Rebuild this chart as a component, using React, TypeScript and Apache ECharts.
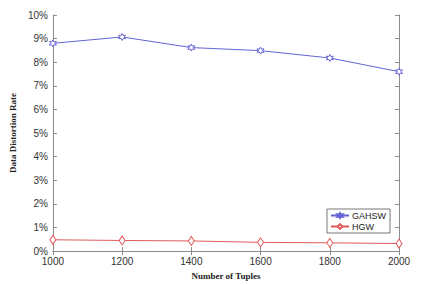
import React, { useEffect, useRef } from "react";
import * as echarts from "echarts";

const tuples = [1000, 1200, 1400, 1600, 1800, 2000];
const gahsw = [8.8, 9.07, 8.62, 8.49, 8.18, 7.6];
const hgw = [0.48, 0.45, 0.43, 0.37, 0.35, 0.32];

const starPath =
  "path://M0,-10 L2.5,-4.3 L8.7,-5 L5,0 L8.7,5 L2.5,4.3 L0,10 L-2.5,4.3 L-8.7,5 L-5,0 L-8.7,-5 L-2.5,-4.3 Z";

export default function App() {
  const ref = useRef<HTMLDivElement>(null);
  useEffect(() => {
    const chart = echarts.init(ref.current!, null, { renderer: "svg" });
    const axisLine = { show: true, lineStyle: { color: "#8c8c8c", width: 1 } };
    const tick = { show: true, inside: true, length: 4, lineStyle: { color: "#8c8c8c" } };
    const labelFont = { fontFamily: "Liberation Sans, Arial, sans-serif", fontSize: 10, color: "#333" };
    const titleFont = { fontFamily: "Liberation Serif, Times New Roman, serif", fontWeight: "bold", fontSize: 9, color: "#222" };
    chart.setOption({
      animation: false,
      backgroundColor: "#fff",
      grid: { left: 51, right: 30, top: 15, bottom: 33, containLabel: false },
      legend: {
        right: 39,
        top: 209,
        orient: "vertical",
        backgroundColor: "#fff",
        borderColor: "#777",
        borderWidth: 1,
        borderRadius: 0,
        padding: [2, 4, 2, 3],
        itemGap: 2,
        itemWidth: 18,
        itemHeight: 6,
        textStyle: { ...labelFont, fontSize: 9, color: "#222", padding: [0, 0, 0, -2] },
        data: ["GAHSW", "HGW"],
      },
      xAxis: [
        {
          type: "value",
          min: 1000,
          max: 2000,
          interval: 200,
          position: "bottom",
          name: "Number of Tuples",
          nameLocation: "middle",
          nameGap: 18,
          nameTextStyle: titleFont,
          axisLine,
          axisTick: tick,
          axisLabel: { ...labelFont, margin: 5, formatter: (v: number) => String(v) },
          splitLine: { show: false },
        },
        {
          type: "value",
          min: 1000,
          max: 2000,
          interval: 200,
          position: "top",
          axisLine,
          axisTick: tick,
          axisLabel: { show: false },
          splitLine: { show: false },
        },
      ],
      yAxis: [
        {
          type: "value",
          min: 0,
          max: 10,
          interval: 1,
          position: "left",
          name: "Data Distortion Rate",
          nameLocation: "middle",
          nameGap: 29,
          nameTextStyle: titleFont,
          axisLine,
          axisTick: tick,
          axisLabel: { ...labelFont, margin: 5, formatter: "{value}%" },
          splitLine: { show: false },
        },
        {
          type: "value",
          min: 0,
          max: 10,
          interval: 1,
          position: "right",
          axisLine,
          axisTick: tick,
          axisLabel: { show: false },
          splitLine: { show: false },
        },
      ],
      series: [
        {
          name: "GAHSW",
          type: "line",
          data: tuples.map((t, i) => [t, gahsw[i]]),
          symbol: starPath,
          symbolSize: 7,
          itemStyle: { color: "#fff", borderColor: "#6363d4", borderWidth: 1 },
          lineStyle: { color: "#6363d4", width: 1 },
          color: "#6363d4",
        },
        {
          name: "HGW",
          type: "line",
          data: tuples.map((t, i) => [t, hgw[i]]),
          symbol: "diamond",
          symbolSize: [6, 9],
          itemStyle: { color: "#fff", borderColor: "#e05a5a", borderWidth: 1 },
          lineStyle: { color: "#e05a5a", width: 1 },
          color: "#e05a5a",
        },
      ],
    });
    return () => chart.dispose();
  }, []);
  return (
    <div
      ref={ref}
      style={{ position: "fixed", left: 0, top: 0, width: 429, height: 285 }}
    />
  );
}
